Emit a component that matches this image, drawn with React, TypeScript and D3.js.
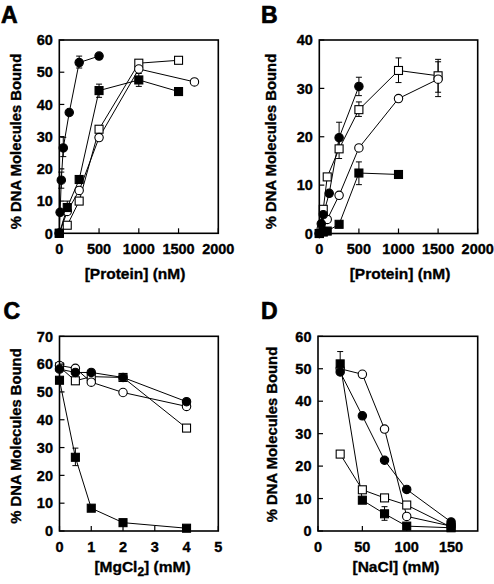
import React from 'react';
import * as d3 from 'd3';

type Pt = [number, number];
type Err = [number, number, number];

// ---------- Panel A : [Protein] (nM) ----------
const A_filledCircle: Pt[] = [[0, 0], [10, 6.5], [25, 16.5], [50, 26.5], [125, 37.5], [250, 53], [500, 55]];
const A_openCircle: Pt[] = [[0, 0], [100, 6.8], [250, 13.3], [500, 29.7], [1000, 51], [1700, 47]];
const A_filledSquare: Pt[] = [[0, 0], [100, 8], [250, 16.7], [500, 44.3], [1000, 47.6], [1500, 44]];
const A_openSquare: Pt[] = [[0, 0], [100, 2.5], [250, 10], [500, 32.3], [1000, 52.8], [1500, 53.7]];
const A_errors: Err[] = [[50, 23.8, 29.8], [25, 14, 19], [250, 51.3, 55], [100, 6, 10], [500, 42.2, 46.3], [1000, 45.6, 49.6]];
const A_xTicks = [0, 500, 1000, 1500, 2000];
const A_yTicks = [0, 10, 20, 30, 40, 50, 60];

// ---------- Panel B : [Protein] (nM) ----------
const B_filledCircle: Pt[] = [[0, 0], [25, 2], [50, 3.9], [125, 8.3], [250, 19.8], [500, 30.4]];
const B_openCircle: Pt[] = [[0, 0], [25, 1], [100, 2.9], [250, 7.9], [500, 17.7], [1000, 27.9], [1500, 31.9]];
const B_filledSquare: Pt[] = [[0, 0], [50, 0.3], [100, 0.5], [250, 1.9], [500, 12.5], [1000, 12.2]];
const B_openSquare: Pt[] = [[0, 0], [50, 5], [100, 11.7], [250, 17.5], [500, 25.6], [1000, 33.7], [1500, 32.6]];
const B_errors: Err[] = [[500, 28.5, 32.3], [250, 17, 23], [1000, 31.2, 36.3], [1500, 29.2, 36], [1500, 28.3, 35.5], [500, 24.2, 27.2], [250, 15.5, 19.5], [500, 10.1, 14.8], [50, 2.5, 5.3]];
const B_xTicks = [0, 500, 1000, 1500, 2000];
const B_yTicks = [0, 10, 20, 30, 40];

// ---------- Panel C : [MgCl2] (mM) ----------
const C_filledCircle: Pt[] = [[0, 58.2], [0.5, 57], [1, 57], [2, 55.2], [4, 46.5]];
const C_openCircle: Pt[] = [[0, 59.5], [0.5, 58.5], [1, 53.5], [2, 49.8], [4, 44.8]];
const C_filledSquare: Pt[] = [[0, 54.2], [0.5, 26.5], [1, 8.2], [2, 3], [4, 1]];
const C_openSquare: Pt[] = [[0, 59], [0.5, 54], [1, 55.5], [2, 55.2], [4, 37]];
const C_errors: Err[] = [[0.5, 23.5, 29.8]];
const C_xTicks = [0, 1, 2, 3, 4, 5];
const C_yTicks = [0, 10, 20, 30, 40, 50, 60, 70];

// ---------- Panel D : [NaCl] (mM) ----------
const D_filledCircle: Pt[] = [[25, 49], [50, 35.5], [75, 21.8], [100, 12.8], [150, 2.8]];
const D_openCircle: Pt[] = [[25, 50], [50, 48.3], [75, 31.4], [100, 4.5], [150, 1.5]];
const D_filledSquare: Pt[] = [[25, 51.5], [50, 9.5], [75, 5.3], [100, 1.5], [150, 1]];
const D_openSquare: Pt[] = [[25, 23.7], [50, 12.7], [75, 10.2], [100, 8], [150, 1.2]];
const D_errors: Err[] = [[25, 51.5, 55.3], [75, 3.3, 7.5]];
const D_xTicks = [0, 50, 100, 150];
const D_yTicks = [0, 10, 20, 30, 40, 50, 60];

const FONT = '"Liberation Sans", Arial, Helvetica, sans-serif';
const Y_LABEL = '% DNA Molecules Bound';

type Shape = 'circle' | 'square';
interface Series { data: Pt[]; shape: Shape; filled: boolean }

interface PanelProps {
  box: { l: number; r: number; t: number; b: number };
  xDomain: [number, number];
  yDomain: [number, number];
  xTicks: number[];
  yTicks: number[];
  series: Series[];
  errors: Err[];
  letter: string;
  letterPos: [number, number];
  yLabelPos: [number, number];
  xLabelPos: [number, number];
  xLabel: React.ReactNode;
}

const TXT = { fontFamily: FONT, fontWeight: 'bold' as const, stroke: '#000', strokeWidth: 0.35 };

function Marker({ x, y, shape, filled }: { x: number; y: number; shape: Shape; filled: boolean }) {
  const fill = filled ? '#000' : '#fff';
  if (shape === 'circle') {
    return <circle cx={x} cy={y} r={4.2} fill={fill} stroke="#000" strokeWidth={1.1} />;
  }
  const s = 8;
  return <rect x={x - s / 2} y={y - s / 2} width={s} height={s} fill={fill} stroke="#000" strokeWidth={1.1} />;
}

function Panel(p: PanelProps) {
  const { box } = p;
  const x = d3.scaleLinear().domain(p.xDomain).range([box.l, box.r]);
  const y = d3.scaleLinear().domain(p.yDomain).range([box.b, box.t]);
  const line = d3.line<Pt>().x(d => x(d[0])).y(d => y(d[1]));
  return (
    <g>
      <text x={p.letterPos[0]} y={p.letterPos[1]} {...TXT} strokeWidth={0.7} fontSize={23}>{p.letter}</text>
      {p.series.map((s, i) => (
        <path key={'l' + i} d={line(s.data) || ''} fill="none" stroke="#000" strokeWidth={1} />
      ))}
      {p.errors.map((e, i) => (
        <g key={'e' + i} stroke="#000" strokeWidth={1}>
          <line x1={x(e[0])} x2={x(e[0])} y1={y(e[1])} y2={y(e[2])} />
          <line x1={x(e[0]) - 3} x2={x(e[0]) + 3} y1={y(e[1])} y2={y(e[1])} />
          <line x1={x(e[0]) - 3} x2={x(e[0]) + 3} y1={y(e[2])} y2={y(e[2])} />
        </g>
      ))}
      {p.series.map((s, i) => (
        <g key={'m' + i}>
          {s.data.map((d, j) => (
            <Marker key={j} x={x(d[0])} y={y(d[1])} shape={s.shape} filled={s.filled} />
          ))}
        </g>
      ))}
      <rect x={box.l} y={box.t} width={box.r - box.l} height={box.b - box.t} fill="none" stroke="#000" strokeWidth={1.6} />
      {p.xTicks.map(t => (
        <g key={'xt' + t}>
          <line x1={x(t)} x2={x(t)} y1={box.b} y2={box.b - 5} stroke="#000" strokeWidth={1.2} />
          <text x={x(t)} y={box.b + 20.5} textAnchor="middle" {...TXT} fontSize={14.5}>{t}</text>
        </g>
      ))}
      {p.yTicks.map(t => (
        <g key={'yt' + t}>
          <line x1={box.l} x2={box.l + 5} y1={y(t)} y2={y(t)} stroke="#000" strokeWidth={1.2} />
          <text x={box.l - 6.5} y={y(t)} dy="0.36em" textAnchor="end" {...TXT} fontSize={14.5}>{t}</text>
        </g>
      ))}
      <text transform={`translate(${p.yLabelPos[0]},${p.yLabelPos[1]}) rotate(-90)`} textAnchor="middle" {...TXT} fontSize={14.8}>{Y_LABEL}</text>
      <text x={p.xLabelPos[0]} y={p.xLabelPos[1]} textAnchor="middle" {...TXT} fontSize={15.5}>{p.xLabel}</text>
    </g>
  );
}

function mk(fc: Pt[], oc: Pt[], fs: Pt[], os: Pt[]): Series[] {
  return [
    { data: os, shape: 'square', filled: false },
    { data: oc, shape: 'circle', filled: false },
    { data: fs, shape: 'square', filled: true },
    { data: fc, shape: 'circle', filled: true },
  ];
}

export default function App() {
  return (
    <svg width={494} height={584} viewBox="0 0 494 584" style={{ position: 'absolute', left: 0, top: 0, background: '#fff' }}>
      <rect width={494} height={584} fill="#fff" />
      <Panel
        box={{ l: 59.3, r: 218.3, t: 40, b: 233.3 }}
        xDomain={[0, 2000]} yDomain={[0, 60]}
        xTicks={A_xTicks} yTicks={A_yTicks}
        series={mk(A_filledCircle, A_openCircle, A_filledSquare, A_openSquare)}
        errors={A_errors}
        letter="A" letterPos={[1, 22.7]}
        yLabelPos={[20.7, 141.5]} xLabelPos={[135, 279.3]}
        xLabel="[Protein] (nM)"
      />
      <Panel
        box={{ l: 319.3, r: 477.7, t: 40, b: 233.5 }}
        xDomain={[0, 2000]} yDomain={[0, 40]}
        xTicks={B_xTicks} yTicks={B_yTicks}
        series={mk(B_filledCircle, B_openCircle, B_filledSquare, B_openSquare)}
        errors={B_errors}
        letter="B" letterPos={[261, 22.7]}
        yLabelPos={[275.5, 141.5]} xLabelPos={[400, 279.3]}
        xLabel="[Protein] (nM)"
      />
      <Panel
        box={{ l: 59.5, r: 218.3, t: 336.3, b: 531 }}
        xDomain={[0, 5]} yDomain={[0, 70]}
        xTicks={C_xTicks} yTicks={C_yTicks}
        series={mk(C_filledCircle, C_openCircle, C_filledSquare, C_openSquare)}
        errors={C_errors}
        letter="C" letterPos={[3.5, 318.7]}
        yLabelPos={[20.7, 436]} xLabelPos={[142.5, 572]}
        xLabel={<>[MgCl<tspan dy={4} fontSize={12}>2</tspan><tspan dy={-4}>] (mM)</tspan></>}
      />
      <Panel
        box={{ l: 318, r: 477.7, t: 336.3, b: 531 }}
        xDomain={[0, 180]} yDomain={[0, 60]}
        xTicks={D_xTicks} yTicks={D_yTicks}
        series={mk(D_filledCircle, D_openCircle, D_filledSquare, D_openSquare)}
        errors={D_errors}
        letter="D" letterPos={[261, 318.7]}
        yLabelPos={[276.5, 434.5]} xLabelPos={[396, 572]}
        xLabel="[NaCl] (mM)"
      />
    </svg>
  );
}
